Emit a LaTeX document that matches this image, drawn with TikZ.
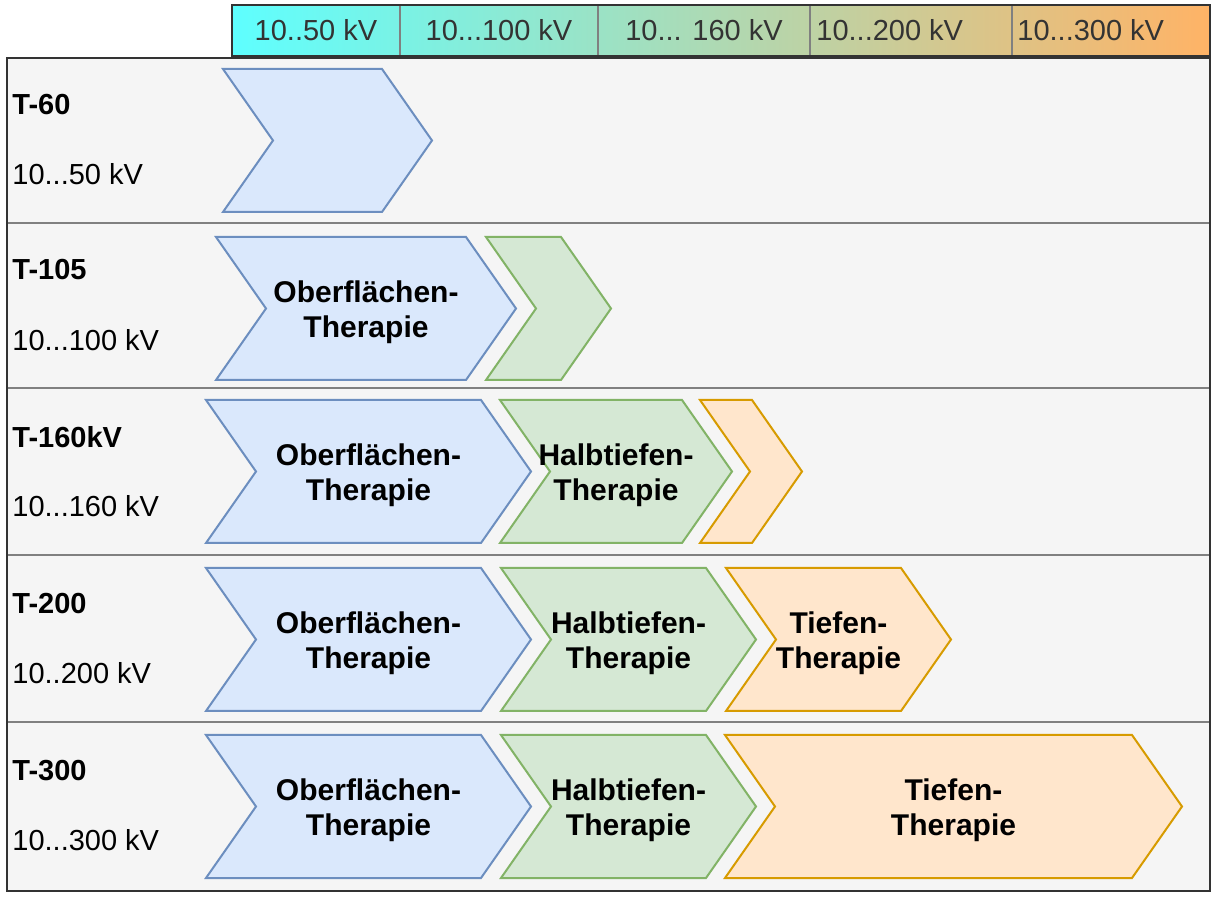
\documentclass[tikz,border=0pt]{standalone}
\usepackage{fontspec}
\setmainfont{Liberation Sans}
\usepackage{tikz}
\usetikzlibrary{calc}
\definecolor{frame}{HTML}{333333}
\definecolor{rule}{HTML}{808080}
\definecolor{panel}{HTML}{F5F5F5}
\definecolor{hdrtext}{HTML}{333333}
\definecolor{hdrL}{HTML}{5EFFFF}
\definecolor{hdrR}{HTML}{FFB366}
\definecolor{blueF}{HTML}{DAE8FC}
\definecolor{blueD}{HTML}{6C8EBF}
\definecolor{greenF}{HTML}{D5E8D4}
\definecolor{greenD}{HTML}{82B366}
\definecolor{orangeF}{HTML}{FFE6CC}
\definecolor{orangeD}{HTML}{D79B00}
\tikzset{
  blu/.style={draw=blueD, fill=blueF, line width=1pt, line join=miter},
  grn/.style={draw=greenD, fill=greenF, line width=1pt, line join=miter},
  org/.style={draw=orangeD, fill=orangeF, line width=1pt, line join=miter},
  lab/.style={font=\bfseries\fontsize{15}{17.5}\selectfont, align=center, inner sep=0pt},
  rowname/.style={font=\bfseries\fontsize{14.5}{17.5}\selectfont, anchor=west, inner sep=0pt},
  rowkv/.style={font=\fontsize{14.5}{17.5}\selectfont, anchor=west, inner sep=0pt},
  hdr/.style={font=\fontsize{14.5}{17.5}\selectfont, text=hdrtext, inner sep=0pt}
}
% chevron: style, left x, tip x, centre y, name, text
\newcommand{\chev}[6]{%
  \draw[#1] (#2,#4-71.5) -- (#3-50,#4-71.5) -- (#3,#4) -- (#3-50,#4+71.5)
    -- (#2,#4+71.5) -- (#2+50,#4) -- cycle;
  \node[lab] (#5) at ({(#2+#3)/2},#4+4) {#6};
}

\begin{document}
\begin{tikzpicture}[x=0.5pt, y=-0.5pt]
  \fill[white] (0,0) rectangle (1216,897);
  \useasboundingbox (0,0) rectangle (1216,897);

  % header bar
  \shade[left color=hdrL, right color=hdrR] (232,5) rectangle (1210,56);
  \foreach \xx in {400,598,810,1012}
    \draw[rule, line width=1pt] (\xx,5) -- (\xx,56);
  \draw[frame, line width=1.2pt] (232,5) rectangle (1210,56);
  \node[hdr] (h50)  at (316,30) {10..50 kV};
  \node[hdr] (h100) at (499,30) {10...100 kV};
  \node[hdr] (h160) at (704,30) {10... 160 kV};
  \node[hdr, anchor=west] (h200) at (816,30) {10...200 kV};
  \node[hdr, anchor=west] (h300) at (1017,30) {10...300 kV};

  % panel with rows
  \fill[panel] (7,58) rectangle (1210,891);
  \foreach \yy in {223,388,555,722}
    \draw[rule, line width=1pt] (7,\yy) -- (1210,\yy);
  \draw[frame, line width=1.3pt] (7,58) rectangle (1210,891);

  \node[rowname] (t60)  at (12,105) {T-60};
  \node[rowkv]   (k60)  at (12,174) {10...50 kV};
  \node[rowname] (t105) at (12,270) {T-105};
  \node[rowkv]   (k105) at (12,340) {10...100 kV};
  \node[rowname] (t160) at (12,437) {T-160kV};
  \node[rowkv]   (k160) at (12,506) {10...160 kV};
  \node[rowname] (t200) at (12,604) {T-200};
  \node[rowkv]   (k200) at (12,673) {10..200 kV};
  \node[rowname] (t300) at (12,771) {T-300};
  \node[rowkv]   (k300) at (12,840) {10...300 kV};

  % T-60
  \chev{blu}{223}{432}{140.5}{ob60}{}
  % T-105
  \chev{blu}{216}{516}{308.5}{ob105}{Oberflächen-\\Therapie}
  \chev{grn}{486}{611}{308.5}{ht105}{}
  % T-160kV
  \chev{blu}{206}{531}{471.5}{ob160}{Oberflächen-\\Therapie}
  \chev{grn}{500}{732}{471.5}{ht160}{Halbtiefen-\\Therapie}
  \chev{org}{700}{802}{471.5}{tt160}{}
  % T-200
  \chev{blu}{206}{531}{639.5}{ob200}{Oberflächen-\\Therapie}
  \chev{grn}{501}{756}{639.5}{ht200}{Halbtiefen-\\Therapie}
  \chev{org}{726}{951}{639.5}{tt200}{Tiefen-\\Therapie}
  % T-300
  \chev{blu}{206}{531}{806.5}{ob300}{Oberflächen-\\Therapie}
  \chev{grn}{501}{756}{806.5}{ht300}{Halbtiefen-\\Therapie}
  \chev{org}{725}{1182}{806.5}{tt300}{Tiefen-\\Therapie}
\end{tikzpicture}
\end{document}
